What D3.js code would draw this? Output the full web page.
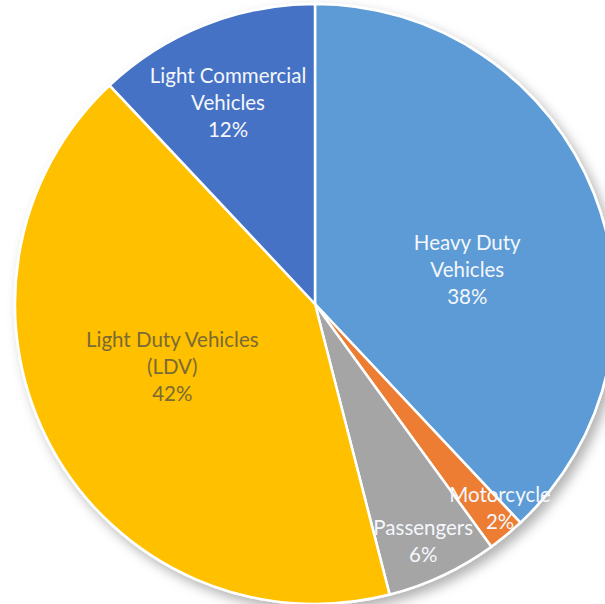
<!DOCTYPE html>
<html>
<head>
<meta charset="utf-8">
<script src="https://cdn.jsdelivr.net/npm/d3@7"></script>
<style>
  body { margin: 0; background: #fff; }
  svg { display: block; }
  text { font-family: Lato, "Open Sans", sans-serif; }
</style>
</head>
<body>
<div id="pie"></div>
<script>
// data, clockwise from 12 o'clock
const categories = ["Heavy Duty Vehicles", "Motorcycle", "Passengers", "Light Duty Vehicles (LDV)", "Light Commercial Vehicles"];
const shares = [38, 2, 6, 42, 12];
const labelLines = [
  ["Heavy Duty", "Vehicles"],
  ["Motorcycle"],
  ["Passengers"],
  ["Light Duty Vehicles", "(LDV)"],
  ["Light Commercial", "Vehicles"]
];
const colors = ["#5b9bd5", "#ed7d31", "#a5a5a5", "#ffc000", "#4472c4"];

const width = 605;
const height = 604;
const cx = 315, cy = 304, radius = 300;

const pieData = categories.map((c, i) => ({ name: c, value: shares[i], lines: labelLines[i], color: colors[i] }));

const pie = d3.pie().sort(null).value(d => d.value);
const arcs = pie(pieData);

const arc = d3.arc().innerRadius(0).outerRadius(radius);

const svg = d3.select("#pie")
  .append("svg")
  .attr("width", width)
  .attr("height", height);

// soft shadow like the office chart
const defs = svg.append("defs");
const f = defs.append("filter").attr("id", "shadow")
  .attr("x", "-20%").attr("y", "-20%").attr("width", "140%").attr("height", "140%");
f.append("feDropShadow")
  .attr("dx", 5).attr("dy", 6)
  .attr("stdDeviation", 6)
  .attr("flood-color", "#000")
  .attr("flood-opacity", 0.3);

const g = svg.append("g").attr("transform", `translate(${cx},${cy})`);

g.append("g").attr("filter", "url(#shadow)")
  .selectAll("path")
  .data(arcs)
  .join("path")
  .attr("d", arc)
  .attr("fill", d => d.data.color)
  .attr("stroke", "#fff")
  .attr("stroke-width", 2.5)
  .attr("stroke-linejoin", "round");

// label placement: fraction of radius + angle nudge (deg) per slice
const labelPos = [[0.52, 9], [0.92, -2.5], [0.87, 0.7], [0.52, 5], [0.73, -1.8]];
const textColor = (d, i) => i === 3 ? "#7a6a35" : "#f4f7fc";
const lineH = 27;

const labels = g.selectAll("text.label")
  .data(arcs)
  .join("text")
  .attr("class", "label")
  .attr("text-anchor", "middle")
  .attr("font-size", 20.5)
  .attr("fill", textColor)
  .attr("transform", (d, i) => {
    const a = (d.startAngle + d.endAngle) / 2 + labelPos[i][1] * Math.PI / 180;
    const r = radius * labelPos[i][0];
    return `translate(${r * Math.sin(a)},${-r * Math.cos(a)})`;
  });

labels.each(function(d) {
  const lines = d.data.lines.concat([d.value + "%"]);
  const t = d3.select(this);
  const top = -(lines.length - 1) * lineH / 2;
  lines.forEach((l, k) => {
    t.append("tspan")
      .attr("x", 0)
      .attr("y", top + k * lineH)
      .attr("dy", "0.35em")
      .text(l);
  });
});
</script>
</body>
</html>
